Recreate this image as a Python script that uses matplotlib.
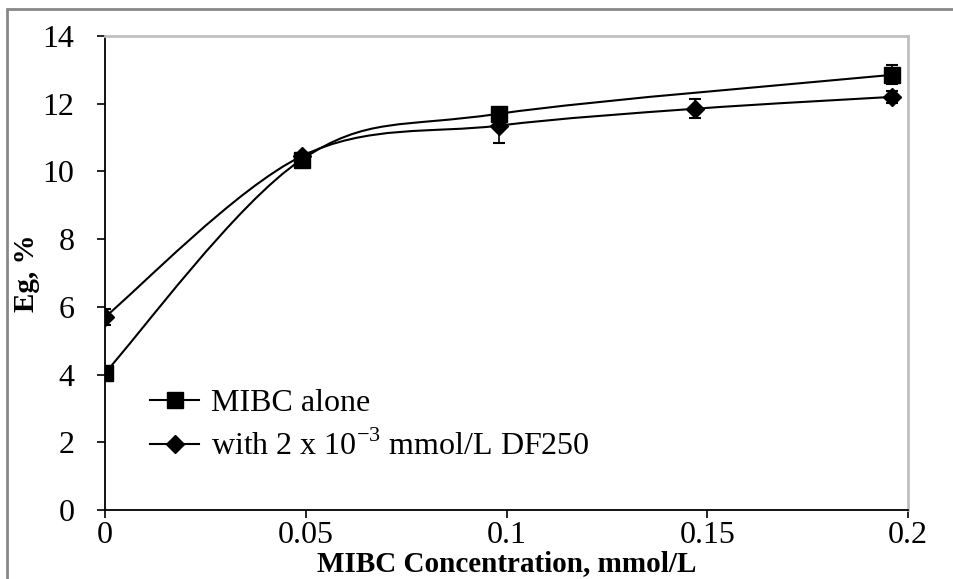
import matplotlib.pyplot as plt
import numpy as np
from matplotlib.path import Path
from matplotlib.patches import PathPatch, Rectangle

plt.rcParams['font.family'] = ['Liberation Serif', 'DejaVu Serif']
plt.rcParams['mathtext.fontset'] = 'custom'
plt.rcParams['mathtext.rm'] = 'Liberation Serif'

# data
x_alone = [0, 0.049, 0.098, 0.196]
y_alone = [4.05, 10.35, 11.7, 12.85]
e_alone = [0.1, 0.15, 0.12, 0.28]

x_df = [0, 0.049, 0.098, 0.147, 0.196]
y_df = [5.7, 10.45, 11.35, 11.85, 12.2]
e_df = [0.25, 0.1, 0.5, 0.28, 0.18]

labels = ['MIBC alone', 'with 2 x 10$^{\\mathregular{-3}}$ mmol/L DF250']


def smooth_path(xs, ys):
    # Excel-like smoothed line: cubic bezier segments (Catmull-Rom control points)
    p = np.column_stack([xs, ys]).astype(float)
    n = len(p)
    verts = [p[0]]
    codes = [Path.MOVETO]
    for i in range(n - 1):
        p0 = p[i - 1] if i > 0 else p[i]
        p3 = p[i + 2] if i + 2 < n else p[i + 1]
        c1 = p[i] + (p[i + 1] - p0) / 6
        c2 = p[i + 1] - (p3 - p[i]) / 6
        verts += [c1, c2, p[i + 1]]
        codes += [Path.CURVE4] * 3
    return Path(verts, codes)


fig = plt.figure(figsize=(9.54, 5.79), dpi=100)
ax = fig.add_axes([0.110, 0.119, 0.842, 0.819])

for xs, ys, es, m, ms in [(x_alone, y_alone, e_alone, 's', 11),
                          (x_df, y_df, e_df, 'D', 9)]:
    ax.add_patch(PathPatch(smooth_path(xs, ys), fill=False, color='black', lw=1.5, zorder=2))
    ax.errorbar(xs, ys, yerr=es, fmt='none', ecolor='black', elinewidth=1.2,
                capsize=4.5, capthick=1.5, zorder=3)
    ax.plot(xs, ys, ls='none', marker=m, ms=ms, color='black', zorder=4)

# legend handles (line + marker)
h1, = ax.plot([], [], '-', color='black', marker='s', ms=11, lw=1.5)
h2, = ax.plot([], [], '-', color='black', marker='D', ms=9, lw=1.5)
ax.legend([h1, h2], labels, loc='lower left', bbox_to_anchor=(0.04, 0.075),
          frameon=False, fontsize=23, handlelength=1.55, handletextpad=0.35,
          labelspacing=0.38, borderaxespad=0)

ax.set_xlim(0, 0.2)
ax.set_ylim(0, 14)
ax.set_xticks([0, 0.05, 0.1, 0.15, 0.2])
ax.set_xticklabels(['0', '0.05', '0.1', '0.15', '0.2'])
ax.set_yticks(range(0, 15, 2))
ax.tick_params(direction='out', length=6, width=1.2, labelsize=23)
ax.tick_params(axis='y', pad=16)
ax.tick_params(axis='x', pad=2)
ax.set_xlabel('MIBC Concentration, mmol/L', fontsize=21, fontweight='bold', labelpad=0)
ax.set_ylabel('Eg, %', fontsize=21, fontweight='bold', labelpad=1.5)

for s in ['top', 'right']:
    ax.spines[s].set_color('#c0c0c0')
    ax.spines[s].set_linewidth(2)
for s in ['left', 'bottom']:
    ax.spines[s].set_color('black')
    ax.spines[s].set_linewidth(1.3)

# outer chart frame (partly cut off at the picture edges)
fig.patches.append(Rectangle((7 / 954, -0.1), 1.0, 1.1 - 9 / 579, transform=fig.transFigure,
                             fill=False, edgecolor='#888888', lw=2))

fig.savefig('out.png', dpi=100)
